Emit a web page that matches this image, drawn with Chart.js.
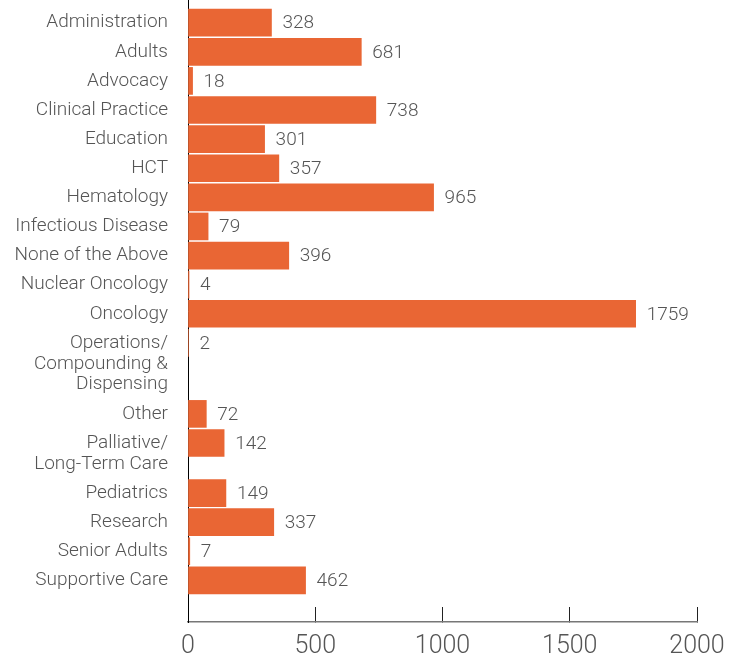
<!DOCTYPE html>
<html>
<head>
<meta charset="utf-8">
<script src="https://cdn.jsdelivr.net/npm/chart.js@4.4.1/dist/chart.umd.min.js"></script>
<style>
  body { margin: 0; background: #fff; }
  #wrap { width: 746px; height: 660px; position: relative; }
</style>
</head>
<body>
<div id="wrap"><canvas id="chart"></canvas></div>
<script>
// categories (multi-line labels as arrays)
const categories = [
    'Administration',
    'Adults',
    'Advocacy',
    'Clinical Practice',
    'Education',
    'HCT',
    'Hematology',
    'Infectious Disease',
    'None of the Above',
    'Nuclear Oncology',
    'Oncology',
    ['Operations/', 'Compounding &', 'Dispensing'],
    'Other',
    ['Palliative/', 'Long-Term Care'],
    'Pediatrics',
    'Research',
    'Senior Adults',
    'Supportive Care'
];
const counts = [328, 681, 18, 738, 301, 357, 965, 79, 396, 4, 1759, 2, 72, 142, 149, 337, 7, 462];
const xTicks = [0, 500, 1000, 1500, 2000];

// each extra label line makes the row taller (in row units)
const EXTRA_LINE = 0.72;
const lineCount = c => Array.isArray(c) ? c.length : 1;

const rowPos = [];
let acc = 0;
categories.forEach(c => {
    rowPos.push(acc);
    acc += 1 + (lineCount(c) - 1) * EXTRA_LINE;
});
// label block centre (first line sits level with the bar)
const labelPos = categories.map((c, i) => rowPos[i] + (lineCount(c) - 1) * EXTRA_LINE / 2);

const FONT = "Roboto, 'Liberation Sans', sans-serif";

const valueLabels = {
    id: 'valueLabels',
    afterDatasetsDraw(chart) {
        const ctx = chart.ctx;
        const meta = chart.getDatasetMeta(0);
        ctx.save();
        ctx.font = '300 19px ' + FONT;
        ctx.fillStyle = '#555';
        ctx.textBaseline = 'middle';
        ctx.textAlign = 'left';
        meta.data.forEach((bar, i) => {
            ctx.fillText(String(counts[i]), bar.x + 11, bar.y + 1);
        });
        ctx.restore();
    }
};

const config = {
    type: 'bar',
    data: {
        datasets: [{
            data: counts.map((v, i) => ({ x: v, y: rowPos[i] })),
            backgroundColor: '#E96634',
            borderWidth: 0,
            barThickness: 27
        }]
    },
    options: {
        indexAxis: 'y',
        responsive: true,
        maintainAspectRatio: false,
        animation: false,
        layout: { padding: { top: 0, right: 49, bottom: 0, left: 0 } },
        plugins: {
            legend: { display: false },
            tooltip: { enabled: false }
        },
        scales: {
            x: {
                type: 'linear',
                position: 'bottom',
                min: 0,
                max: 2000,
                afterBuildTicks: scale => { scale.ticks = xTicks.map(v => ({ value: v })); },
                afterFit: scale => {
                    scale.height = 38;
                    scale.paddingLeft = 0;
                    scale.paddingRight = 0;
                },
                grid: {
                    drawOnChartArea: false,
                    drawTicks: true,
                    tickLength: -15,
                    color: '#222',
                    lineWidth: 1
                },
                border: { display: true, color: '#777', width: 1.5 },
                ticks: {
                    padding: 25,
                    color: '#555',
                    font: { family: FONT, size: 25, weight: '300' },
                    callback: value => String(value)
                }
            },
            y: {
                type: 'linear',
                reverse: true,
                offset: false,
                min: -0.78,
                max: 20.59,
                afterBuildTicks: scale => { scale.ticks = labelPos.map(v => ({ value: v })); },
                afterFit: scale => {
                    scale.width = 188;
                    scale.paddingTop = 0;
                    scale.paddingBottom = 0;
                },
                grid: { display: false, drawTicks: false },
                border: { display: true, color: '#000', width: 1 },
                ticks: {
                    autoSkip: false,
                    padding: 20,
                    color: '#555',
                    font: { family: FONT, size: 19, weight: '300', lineHeight: 1.1 },
                    callback: (value, index) => categories[index]
                }
            }
        }
    },
    plugins: [valueLabels]
};

const myChart = new Chart(document.getElementById('chart'), config);
</script>
</body>
</html>
